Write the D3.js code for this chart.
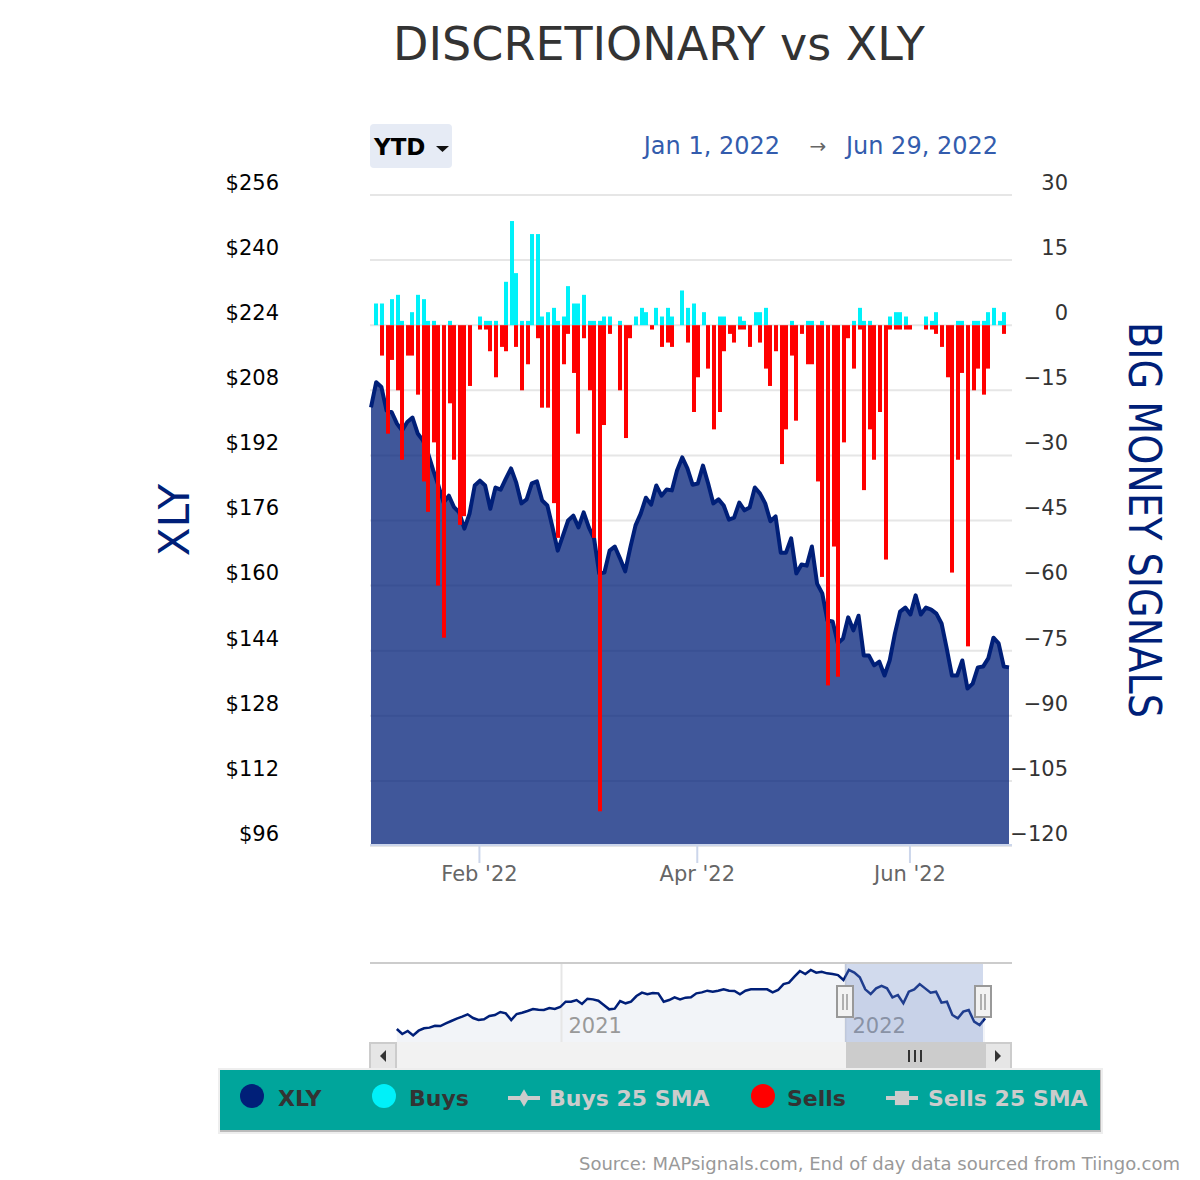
<!DOCTYPE html>
<html>
<head>
<meta charset="utf-8">
<title>DISCRETIONARY vs XLY</title>
<script src="https://cdn.jsdelivr.net/npm/d3@7"></script>
<style>
    body { margin: 0; background: #fff; }
    svg { display: block; }
    text { font-family: "DejaVu Sans", sans-serif; }
</style>
</head>
<body>
<svg id="chart"></svg>
<script>
const width = 1200;
const height = 1180;

// price per trading day, Dec 31 '21 to Jun 29 '22
const xlyPrices = [
    203.8, 210.0, 208.8, 203.0, 202.6, 199.8, 198.1, 200.2, 201.3, 197.4, 195.7, 192.5, 188.3, 184.6, 180.4, 182.1,
    179.3, 178.0, 174.0, 177.7, 184.6, 185.8, 184.6, 178.9, 184.1, 183.6, 186.3, 188.8, 185.3, 180.2, 181.2, 185.1,
    185.6, 180.9, 179.7, 174.3, 168.6, 172.3, 176.0, 177.2, 174.3, 178.0, 174.3, 171.6, 163.0, 163.2, 168.6, 169.6,
    166.7, 163.5, 169.4, 174.8, 177.7, 181.6, 179.9, 184.6, 182.1, 183.6, 183.4, 188.3, 191.5, 188.8, 184.8, 185.1,
    189.5, 185.1, 180.2, 181.2, 179.7, 176.2, 176.7, 180.4, 178.5, 179.2, 184.1, 182.6, 180.2, 175.8, 177.0, 168.1,
    168.1, 171.6, 163.0, 165.2, 164.9, 169.6, 160.5, 158.1, 151.4, 151.2, 145.8, 147.0, 152.2, 149.0, 152.6, 142.8,
    142.8, 140.4, 141.3, 137.9, 141.6, 148.2, 153.6, 154.6, 152.9, 157.6, 152.9, 154.6, 154.1, 153.1, 150.7, 144.5,
    137.9, 137.9, 141.6, 134.7, 135.9, 139.9, 140.1, 142.1, 147.2, 145.8, 140.1, 139.9
];
const buys = [
    0, 5, 5, 0, 6, 7, 1, 0, 3, 7, 6, 1, 1, 0, 0, 1, 0, 0, 0, 0, 0,
    2, 1, 1, 1, 0, 10, 24, 12, 1, 1, 21, 21, 2, 3, 4, 1, 2, 9, 5, 5,
    7, 1, 1, 1, 2, 2, 0, 1, 0, 0, 2, 4, 3, 0, 4, 2, 4, 2, 0, 8,
    4, 5, 0, 3, 0, 0, 2, 2, 0, 0, 2, 1, 0, 3, 3, 4, 0, 0, 0, 0,
    1, 0, 0, 1, 1, 0, 1, 0, 0, 0, 0, 0, 1, 4, 1, 1, 0, 0, 0, 2,
    3, 3, 2, 0, 0, 0, 2, 1, 3, 0, 0, 0, 1, 1, 0, 1, 1, 1, 3, 4,
    1, 3, 0
];
const sells = [
    0, 0, -7, -25, -8, -15, -31, -7, -7, -16, -36, -43, -27, -60, -72, -18, -31, -46, -44, -14, 0,
    -1, -1, -6, -12, -5, -6, 0, -5, -15, -9, 0, -3, -19, -19, -41, -49, -9, -2, -11, -25,
    -3, -15, -49, -112, -23, -2, 0, -15, -26, -3, 0, 0, 0, -1, 0, -5, -4, -5, 0, 0,
    -4, -20, -12, 0, -10, -24, -20, -6, -2, -4, -1, -1, -5, 0, -4, -10, -14, -6, -32, -24,
    -7, -22, -2, -9, -9, -36, -58, -83, -51, -81, -27, -3, -10, -1, -38, -24, -31, -20, -54, -1,
    -1, -1, -1, -1, 0, 0, -1, -1, -2, -5, -12, -57, -31, -11, -74, -15, -10, -16, -10, 0,
    0, -2, 0
];
// weekly closes for the navigator, Jun '20 to Jun '22
const navPrices = [
    129.5, 122.7, 126.8, 120.9, 127.2, 130.4, 131.3, 133.9, 133.5, 137.1, 140.2, 143.4, 146.0, 149.2, 144.2, 141.6,
    142.5, 146.9, 148.3, 152.3, 150.5, 141.6, 149.6, 151.4, 153.7, 156.3, 155.4, 155.0, 157.7, 156.3, 159.0, 166.2,
    166.2, 168.4, 163.1, 170.2, 169.3, 167.5, 161.7, 155.9, 156.8, 167.1, 164.0, 166.2, 173.8, 178.3, 176.1, 177.8,
    177.4, 166.2, 168.4, 172.0, 169.3, 171.6, 172.0, 177.4, 178.7, 181.0, 179.6, 181.0, 182.8, 181.0, 180.5, 176.1,
    181.0, 182.8, 182.8, 182.8, 182.8, 178.7, 181.9, 189.9, 191.7, 199.8, 207.4, 203.4, 208.8, 205.2, 206.5, 204.3,
    203.4, 202.0, 195.3, 208.8, 205.2, 198.9, 182.8, 176.5, 184.1, 187.3, 184.1, 172.0, 175.2, 164.0, 179.6, 182.8,
    189.9, 184.1, 178.3, 179.6, 164.9, 166.2, 148.3, 143.8, 152.8, 155.0, 139.3, 134.8, 143.8
];

const holidays = ["2022-01-17", "2022-02-21", "2022-04-15", "2022-05-30", "2022-06-20"];
const priceTicks = [96, 112, 128, 144, 160, 176, 192, 208, 224, 240, 256];
const signalTicks = [-120, -105, -90, -75, -60, -45, -30, -15, 0, 15, 30];
const monthTicks = [new Date(2022, 1, 1), new Date(2022, 3, 1), new Date(2022, 5, 1)];
const yearTicks = [new Date(2021, 0, 1), new Date(2022, 0, 1)];

const navy = "#001f78";
const cyan = "#00f1f9";
const red = "#ff0000";

const isoDay = d3.timeFormat("%Y-%m-%d");
const tradingDays = d3.timeDay.range(new Date(2021, 11, 31), new Date(2022, 5, 30))
    .filter(d => d.getDay() % 6 !== 0 && !holidays.includes(isoDay(d)));
const navDates = navPrices.map((p, i) => d3.timeWeek.offset(new Date(2020, 5, 4), i));

const svg = d3.select("#chart")
    .attr("width", width)
    .attr("height", height);

const plotLeft = 371;
const plotRight = 1012;
const plotBottom = 845;

const x = d3.scalePoint().domain(tradingDays).range([plotLeft, 1009]);
const yPrice = d3.scaleLinear().domain([96, 256]).range([846, 195]);
const ySignal = d3.scaleLinear().domain([-120, 30]).range([846, 195]);

svg.append("text")
    .attr("x", 659)
    .attr("y", 60)
    .attr("text-anchor", "middle")
    .attr("font-size", 46)
    .attr("fill", "#333")
    .text("DISCRETIONARY vs XLY");

// range selector
svg.append("rect")
    .attr("x", 370).attr("y", 124)
    .attr("width", 82).attr("height", 44)
    .attr("rx", 4)
    .attr("fill", "#e6ebf5");
svg.append("text")
    .attr("x", 374).attr("y", 155)
    .attr("font-size", 23).attr("font-weight", "bold").attr("fill", "#000")
    .text("YTD");
svg.append("path")
    .attr("d", "M436,146h13l-6.5,6z")
    .attr("fill", "#111");
svg.append("text")
    .attr("x", 780).attr("y", 154)
    .attr("text-anchor", "end")
    .attr("font-size", 24).attr("fill", "#335cad")
    .text("Jan 1, 2022");
svg.append("text")
    .attr("x", 818).attr("y", 153)
    .attr("text-anchor", "middle")
    .attr("font-size", 20).attr("fill", "#666")
    .text("→");
svg.append("text")
    .attr("x", 998).attr("y", 154)
    .attr("text-anchor", "end")
    .attr("font-size", 24).attr("fill", "#335cad")
    .text("Jun 29, 2022");

// gridlines
svg.append("g")
    .selectAll("line")
    .data(signalTicks)
    .join("line")
    .attr("x1", 370)
    .attr("x2", plotRight)
    .attr("y1", d => ySignal(d))
    .attr("y2", d => ySignal(d))
    .attr("stroke", "#e6e6e6")
    .attr("stroke-width", 2);

// price area and line
const area = d3.area()
    .x((d, i) => x(tradingDays[i]))
    .y0(plotBottom)
    .y1(d => yPrice(d));
const line = d3.line()
    .x((d, i) => x(tradingDays[i]))
    .y(d => yPrice(d));

svg.append("path")
    .datum(xlyPrices)
    .attr("d", area)
    .attr("fill", navy)
    .attr("fill-opacity", 0.75);
svg.append("path")
    .datum(xlyPrices)
    .attr("d", line)
    .attr("fill", "none")
    .attr("stroke", navy)
    .attr("stroke-width", 4)
    .attr("stroke-linejoin", "round");

// bars snap to the same 2px grid as the reference
const barLeft = i => 2 * Math.round((x(tradingDays[i]) - 1.5) / 2);

svg.append("g")
    .selectAll("rect")
    .data(buys)
    .join("rect")
    .attr("x", (d, i) => barLeft(i))
    .attr("y", d => ySignal(d))
    .attr("width", 4)
    .attr("height", d => ySignal(0) - ySignal(d))
    .attr("fill", cyan);

svg.append("g")
    .selectAll("rect")
    .data(sells)
    .join("rect")
    .attr("x", (d, i) => barLeft(i))
    .attr("y", ySignal(0))
    .attr("width", 4)
    .attr("height", d => ySignal(d) - ySignal(0))
    .attr("fill", red);

// axes
const xAxis = d3.axisBottom(x)
    .tickValues(monthTicks)
    .tickFormat(d3.timeFormat("%b '%y"))
    .tickSize(18)
    .tickSizeOuter(0)
    .tickPadding(3);
const xAxisGroup = svg.append("g")
    .attr("transform", `translate(-1, ${plotBottom})`)
    .call(xAxis);
xAxisGroup.select(".domain").remove();
xAxisGroup.selectAll(".tick line").attr("stroke", "#ccd6eb").attr("stroke-width", 2);
xAxisGroup.selectAll(".tick text")
    .attr("font-size", 21)
    .attr("fill", "#666");
svg.append("line")
    .attr("x1", 370).attr("x2", plotRight)
    .attr("y1", plotBottom).attr("y2", plotBottom)
    .attr("stroke", "#ccd6eb").attr("stroke-width", 2);

const leftAxis = d3.axisLeft(yPrice)
    .tickValues(priceTicks)
    .tickFormat(d => "$" + d)
    .tickSize(0);
const leftAxisGroup = svg.append("g")
    .attr("transform", "translate(282, 0)")
    .call(leftAxis);
leftAxisGroup.select(".domain").remove();
leftAxisGroup.selectAll(".tick text")
    .attr("font-size", 21)
    .attr("fill", "#000")
    .attr("dy", "-0.27em");

const rightAxis = d3.axisLeft(ySignal)
    .tickValues(signalTicks)
    .tickFormat(d => String(d).replace("-", "−"))
    .tickSize(0);
const rightAxisGroup = svg.append("g")
    .attr("transform", "translate(1071, 0)")
    .call(rightAxis);
rightAxisGroup.select(".domain").remove();
rightAxisGroup.selectAll(".tick text")
    .attr("font-size", 21)
    .attr("fill", "#333")
    .attr("dy", "-0.27em");

svg.append("text")
    .attr("transform", "translate(189, 520) rotate(-90)")
    .attr("text-anchor", "middle")
    .attr("font-size", 42)
    .attr("fill", navy)
    .text("XLY");
svg.append("text")
    .attr("transform", "translate(1129, 322) rotate(90)")
    .attr("font-size", 44)
    .attr("textLength", 396)
    .attr("lengthAdjust", "spacingAndGlyphs")
    .attr("fill", navy)
    .text("BIG MONEY SIGNALS");

// navigator
const navTop = 964;
const navBottom = 1042;
const navX = d3.scaleTime().domain(yearTicks).range([561, 845]);
const navY = d3.scaleLinear().domain([112, 212]).range([1042, 967.6]);

svg.append("path")
    .datum(navPrices)
    .attr("d", d3.area()
        .x((d, i) => navX(navDates[i]))
        .y0(navBottom)
        .y1(d => navY(d)))
    .attr("fill", navy)
    .attr("fill-opacity", 0.05);

const navAxis = d3.axisBottom(navX)
    .tickValues(yearTicks)
    .tickFormat(d3.timeFormat("%Y"))
    .tickSize(navBottom - navTop);
const navAxisGroup = svg.append("g")
    .attr("transform", `translate(0, ${navTop})`)
    .call(navAxis);
navAxisGroup.select(".domain").remove();
navAxisGroup.selectAll(".tick line").attr("stroke", "#e6e6e6").attr("stroke-width", 2);
navAxisGroup.selectAll(".tick text")
    .attr("font-size", 21)
    .attr("fill", "#999")
    .attr("text-anchor", "start")
    .attr("x", 7)
    .attr("y", 62)
    .attr("dy", "0.32em");

svg.append("path")
    .datum(navPrices)
    .attr("d", d3.line()
        .x((d, i) => navX(navDates[i]))
        .y(d => navY(d)))
    .attr("fill", "none")
    .attr("stroke", navy)
    .attr("stroke-width", 2.5);

const selLeft = navX(new Date(2022, 0, 1));
const selRight = 983;
svg.append("rect")
    .attr("x", selLeft).attr("y", navTop)
    .attr("width", selRight - selLeft).attr("height", navBottom - navTop)
    .attr("fill", "#6685c2")
    .attr("fill-opacity", 0.3);
svg.append("line")
    .attr("x1", 370).attr("x2", plotRight)
    .attr("y1", 963).attr("y2", 963)
    .attr("stroke", "#ccc").attr("stroke-width", 2);

// navigator handles
[selLeft, selRight].forEach(cx => {
    svg.append("rect")
        .attr("x", cx - 8).attr("y", 986)
        .attr("width", 16).attr("height", 31)
        .attr("fill", "#f2f2f2").attr("stroke", "#999").attr("stroke-width", 2);
    [-2, 2].forEach(dx => {
        svg.append("line")
            .attr("x1", cx + dx).attr("x2", cx + dx)
            .attr("y1", 994).attr("y2", 1010)
            .attr("stroke", "#999").attr("stroke-width", 1.5);
    });
});

// scrollbar
svg.append("rect")
    .attr("x", 369).attr("y", 1042)
    .attr("width", 643).attr("height", 28)
    .attr("fill", "#f2f2f2");
[[369, 28], [984, 28]].forEach(b => {
    svg.append("rect")
        .attr("x", b[0] + 1).attr("y", 1043)
        .attr("width", b[1] - 2).attr("height", 27)
        .attr("fill", "#e6e6e6").attr("stroke", "#ccc").attr("stroke-width", 2);
});
svg.append("rect")
    .attr("x", 846).attr("y", 1042)
    .attr("width", 138).attr("height", 28)
    .attr("fill", "#ccc");
[-6, 0, 6].forEach(dx => {
    svg.append("line")
        .attr("x1", 915 + dx).attr("x2", 915 + dx)
        .attr("y1", 1050).attr("y2", 1062)
        .attr("stroke", "#333").attr("stroke-width", 2);
});
svg.append("path").attr("d", "M386,1050v12l-6,-6z").attr("fill", "#333");
svg.append("path").attr("d", "M995,1050v12l6,-6z").attr("fill", "#333");

// legend
svg.append("rect")
    .attr("x", 218).attr("y", 1068)
    .attr("width", 885).attr("height", 66)
    .attr("fill", "#eee");
svg.append("rect")
    .attr("x", 220).attr("y", 1070)
    .attr("width", 881).attr("height", 62)
    .attr("fill", "#bbb");
svg.append("rect")
    .attr("x", 220).attr("y", 1070)
    .attr("width", 880).attr("height", 60)
    .attr("fill", "#00a59b");

const legendItems = [
    {name: "XLY", kind: "dot", color: navy, mx: 252, tx: 278, text: "#333"},
    {name: "Buys", kind: "dot", color: cyan, mx: 384, tx: 409, text: "#333"},
    {name: "Buys 25 SMA", kind: "diamond", color: "#ccc", mx: 524, tx: 549, text: "#ccc"},
    {name: "Sells", kind: "dot", color: red, mx: 763, tx: 787, text: "#333"},
    {name: "Sells 25 SMA", kind: "square", color: "#ccc", mx: 902, tx: 928, text: "#ccc"}
];
legendItems.forEach(item => {
    if (item.kind === "dot") {
        svg.append("circle")
            .attr("cx", item.mx).attr("cy", 1096).attr("r", 12)
            .attr("fill", item.color);
    } else {
        svg.append("line")
            .attr("x1", item.mx - 16).attr("x2", item.mx + 16)
            .attr("y1", 1098).attr("y2", 1098)
            .attr("stroke", item.color).attr("stroke-width", 4);
        svg.append("path")
            .attr("d", item.kind === "diamond" ? d3.symbol(d3.symbolDiamond, 90) : d3.symbol(d3.symbolSquare, 200))
            .attr("transform", `translate(${item.mx}, 1098)`)
            .attr("fill", item.color);
    }
    svg.append("text")
        .attr("x", item.tx).attr("y", 1106)
        .attr("font-size", 22).attr("font-weight", "bold")
        .attr("fill", item.text)
        .text(item.name);
});

svg.append("text")
    .attr("x", 1180).attr("y", 1170)
    .attr("text-anchor", "end")
    .attr("font-size", 18)
    .attr("fill", "#999")
    .text("Source: MAPsignals.com, End of day data sourced from Tiingo.com");
</script>
</body>
</html>
